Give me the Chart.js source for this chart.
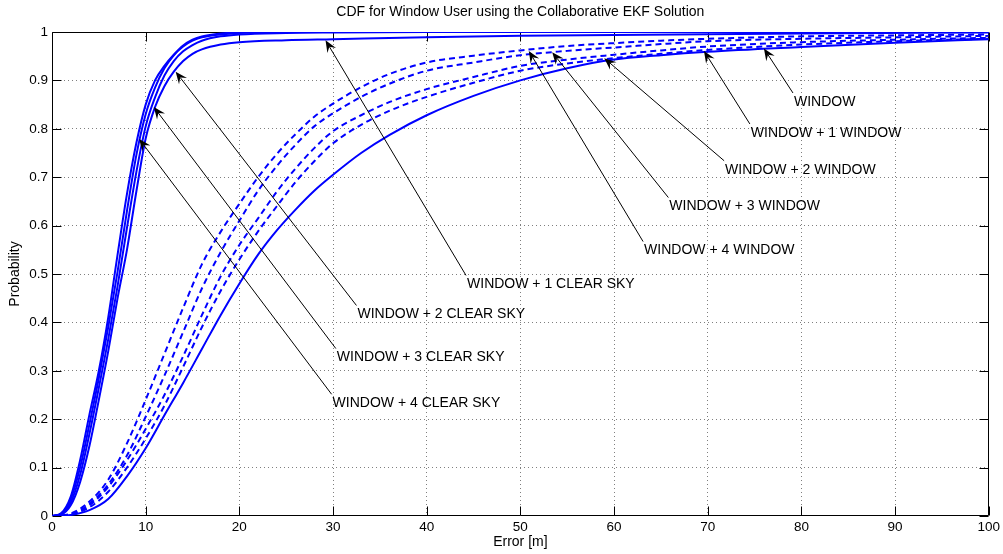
<!DOCTYPE html>
<html>
<head>
<meta charset="utf-8">
<script src="https://cdn.jsdelivr.net/npm/chart.js@4.4.1/dist/chart.umd.min.js"></script>
<style>
  html, body { margin: 0; padding: 0; background: #fff; }
  canvas { display: block; }
</style>
</head>
<body>
<canvas id="cdf" width="1003" height="554"></canvas>
<script>
// Error samples (m) for the clear-sky collaborators
const errClearSky = [0, 1, 2, 3, 4, 5, 6, 7, 8, 9, 10, 11, 12, 13, 14, 15, 16, 18, 20, 25, 30, 40, 50, 60, 80, 100];
const cdfWin4Clear = [0, 0.006, 0.04, 0.115, 0.21, 0.30, 0.41, 0.54, 0.665, 0.77, 0.85, 0.90, 0.93, 0.953, 0.972, 0.984, 0.991, 0.997, 0.999, 1, 1, 1, 1, 1, 1, 1];
const cdfWin3Clear = [0, 0.005, 0.035, 0.10, 0.19, 0.285, 0.39, 0.505, 0.63, 0.745, 0.83, 0.885, 0.925, 0.952, 0.97, 0.982, 0.989, 0.995, 0.998, 1, 1, 1, 1, 1, 1, 1];
const cdfWin2Clear = [0, 0.004, 0.028, 0.085, 0.17, 0.265, 0.365, 0.475, 0.595, 0.71, 0.805, 0.865, 0.91, 0.94, 0.96, 0.973, 0.982, 0.991, 0.995, 0.998, 0.999, 1, 1, 1, 1, 1];
const cdfWin1Clear = [0, 0.003, 0.022, 0.07, 0.145, 0.24, 0.34, 0.45, 0.55, 0.67, 0.78, 0.845, 0.888, 0.918, 0.94, 0.955, 0.964, 0.974, 0.979, 0.983, 0.985, 0.989, 0.992, 0.994, 0.997, 0.999];

// Error samples (m) for the window-only cases
const errWindow = [0, 2, 4, 6, 8, 10, 12, 14, 16, 18, 20, 22, 24, 26, 28, 30, 33, 36, 40, 45, 50, 55, 60, 65, 70, 80, 90, 100];
const cdfWindow = [0, 0.002, 0.012, 0.035, 0.082, 0.14, 0.208, 0.275, 0.345, 0.415, 0.48, 0.54, 0.59, 0.633, 0.672, 0.705, 0.75, 0.787, 0.828, 0.868, 0.9, 0.925, 0.943, 0.952, 0.959, 0.969, 0.978, 0.985];
const cdfWin4Window = [0, 0.005, 0.03, 0.075, 0.15, 0.24, 0.335, 0.43, 0.52, 0.587, 0.645, 0.70, 0.748, 0.789, 0.825, 0.852, 0.886, 0.913, 0.937, 0.951, 0.962, 0.971, 0.977, 0.982, 0.986, 0.991, 0.993, 0.995];
const cdfWin3Window = [0, 0.004, 0.025, 0.065, 0.125, 0.205, 0.29, 0.38, 0.47, 0.545, 0.61, 0.672, 0.723, 0.767, 0.805, 0.832, 0.866, 0.893, 0.92, 0.937, 0.952, 0.961, 0.968, 0.975, 0.981, 0.986, 0.989, 0.992];
const cdfWin2Window = [0, 0.003, 0.022, 0.06, 0.115, 0.18, 0.25, 0.33, 0.415, 0.495, 0.56, 0.615, 0.67, 0.718, 0.76, 0.795, 0.828, 0.855, 0.882, 0.907, 0.93, 0.943, 0.953, 0.962, 0.97, 0.979, 0.984, 0.988];
const cdfWin1Window = [0, 0.003, 0.018, 0.05, 0.1, 0.16, 0.228, 0.308, 0.39, 0.465, 0.53, 0.588, 0.64, 0.69, 0.733, 0.77, 0.808, 0.837, 0.866, 0.895, 0.92, 0.935, 0.946, 0.955, 0.963, 0.974, 0.981, 0.986];

// Tick labels
const xTickLabels = ['0', '10', '20', '30', '40', '50', '60', '70', '80', '90', '100'];
const yTickLabels = ['0', '0.1', '0.2', '0.3', '0.4', '0.5', '0.6', '0.7', '0.8', '0.9', '1'];

// Text arrows: label, arrow tip (error, probability), text anchor (error, probability)
const arrowLabels = ['WINDOW', 'WINDOW + 1 WINDOW', 'WINDOW + 2 WINDOW', 'WINDOW + 3 WINDOW', 'WINDOW + 4 WINDOW',
                     'WINDOW + 1 CLEAR SKY', 'WINDOW + 2 CLEAR SKY', 'WINDOW + 3 CLEAR SKY', 'WINDOW + 4 CLEAR SKY'];
const arrowTipX = [76.0, 69.6, 58.95, 53.4, 50.9, 29.2, 13.2, 10.87, 9.31];
const arrowTipY = [0.966, 0.961, 0.946, 0.958, 0.961, 0.983, 0.918, 0.845, 0.779];
const arrowTailX = [79.1, 74.5, 71.75, 65.8, 63.1, 44.2, 32.5, 30.3, 29.85];
const arrowTailY = [0.874, 0.810, 0.734, 0.658, 0.567, 0.497, 0.435, 0.346, 0.2515];

const FONT = '"Liberation Sans", Arial, Helvetica, sans-serif';
const BLUE = '#0000ff';

function series(xs, ys, dashed) {
  return {
    data: xs.map((x, i) => ({ x: x, y: ys[i] })),
    borderColor: BLUE,
    borderWidth: 2,
    borderDash: dashed ? [6, 4] : [],
    pointRadius: 0,
    fill: false,
    cubicInterpolationMode: 'monotone'
  };
}

// Axes box with inward tick marks on all four sides
const boxPlugin = {
  id: 'matlabBox',
  beforeDatasetsDraw(chart) {
    const { ctx, chartArea: a, scales: { x, y } } = chart;
    const L = Math.round(a.left) + 0.5, R = Math.round(a.right) - 0.5;
    const T = Math.round(a.top) + 0.5, B = Math.round(a.bottom) - 0.5;
    const len = 9;
    ctx.save();
    ctx.strokeStyle = '#000';
    ctx.lineWidth = 1;
    ctx.beginPath();
    ctx.rect(L, T, R - L, B - T);
    x.ticks.forEach(t => {
      const px = Math.round(x.getPixelForValue(t.value)) + 0.5;
      ctx.moveTo(px, B); ctx.lineTo(px, B - len);
      ctx.moveTo(px, T); ctx.lineTo(px, T + len);
    });
    y.ticks.forEach(t => {
      const py = Math.round(y.getPixelForValue(t.value)) + 0.5;
      ctx.moveTo(L, py); ctx.lineTo(L + len, py);
      ctx.moveTo(R, py); ctx.lineTo(R - len, py);
    });
    ctx.stroke();
    ctx.restore();
  }
};

// Text arrows pointing at the curves
const arrowPlugin = {
  id: 'textArrows',
  afterDatasetsDraw(chart) {
    const { ctx, scales: { x, y } } = chart;
    ctx.save();
    ctx.font = '14px ' + FONT;
    ctx.textAlign = 'left';
    ctx.textBaseline = 'middle';
    arrowLabels.forEach((label, i) => {
      const hx = x.getPixelForValue(arrowTipX[i]), hy = y.getPixelForValue(arrowTipY[i]);
      const tx = x.getPixelForValue(arrowTailX[i]), ty = y.getPixelForValue(arrowTailY[i]);
      const dx = hx - tx, dy = hy - ty, d = Math.hypot(dx, dy);
      const ux = dx / d, uy = dy / d, nx = -uy, ny = ux;
      const headLen = 12, half = 5, notch = 7.5;
      ctx.strokeStyle = '#000';
      ctx.lineWidth = 1;
      ctx.beginPath();
      ctx.moveTo(tx, ty);
      ctx.lineTo(hx - ux * notch, hy - uy * notch);
      ctx.stroke();
      ctx.fillStyle = '#000';
      ctx.beginPath();
      ctx.moveTo(hx, hy);
      ctx.lineTo(hx - ux * headLen + nx * half, hy - uy * headLen + ny * half);
      ctx.lineTo(hx - ux * notch, hy - uy * notch);
      ctx.lineTo(hx - ux * headLen - nx * half, hy - uy * headLen - ny * half);
      ctx.closePath();
      ctx.fill();
      ctx.fillText(label, tx + 1, ty + 9);
    });
    ctx.restore();
  }
};

const gridColor = 'rgba(0,0,0,0.5)';
const tickFont = { family: FONT, size: 13.5 };

new Chart(document.getElementById('cdf'), {
  type: 'line',
  data: {
    datasets: [
      series(errClearSky, cdfWin4Clear, false),
      series(errClearSky, cdfWin3Clear, false),
      series(errClearSky, cdfWin2Clear, false),
      series(errClearSky, cdfWin1Clear, false),
      series(errWindow, cdfWin4Window, true),
      series(errWindow, cdfWin3Window, true),
      series(errWindow, cdfWin2Window, true),
      series(errWindow, cdfWin1Window, true),
      series(errWindow, cdfWindow, false)
    ]
  },
  options: {
    responsive: false,
    animation: false,
    events: [],
    layout: { padding: { left: 0, right: 13, top: 0, bottom: 0 } },
    plugins: {
      legend: { display: false },
      tooltip: { enabled: false },
      title: {
        display: true,
        fullSize: false,
        text: 'CDF for Window User using the Collaborative EKF Solution',
        color: '#000',
        font: { family: FONT, size: 14, weight: 'normal' },
        padding: { top: 4, bottom: 11.2 }
      }
    },
    scales: {
      x: {
        type: 'linear',
        min: 0,
        max: 100,
        afterFit: s => { s.height = 38; },
        ticks: {
          stepSize: 10,
          color: '#000',
          font: tickFont,
          padding: 3,
          maxRotation: 0,
          callback: (v, i) => xTickLabels[i]
        },
        grid: {
          drawTicks: false,
          lineWidth: 1,
          color: c => (c.index === 0 || c.index === xTickLabels.length - 1) ? 'rgba(0,0,0,0)' : gridColor
        },
        border: { display: false, dash: [1, 3] },
        title: {
          display: true,
          text: 'Error [m]',
          color: '#000',
          font: { family: FONT, size: 14 },
          padding: { top: 0, bottom: 3 }
        }
      },
      y: {
        type: 'linear',
        min: 0,
        max: 1,
        afterFit: s => { s.width = 52; },
        ticks: {
          stepSize: 0.1,
          color: '#000',
          font: tickFont,
          padding: 4,
          callback: (v, i) => yTickLabels[i]
        },
        grid: {
          drawTicks: false,
          lineWidth: 1,
          color: c => (c.index === 0 || c.index === yTickLabels.length - 1) ? 'rgba(0,0,0,0)' : gridColor
        },
        border: { display: false, dash: [1, 3] },
        title: {
          display: true,
          text: 'Probability',
          color: '#000',
          font: { family: FONT, size: 14 },
          padding: { top: 6.6, bottom: 0 }
        }
      }
    }
  },
  plugins: [boxPlugin, arrowPlugin]
});
</script>
</body>
</html>
